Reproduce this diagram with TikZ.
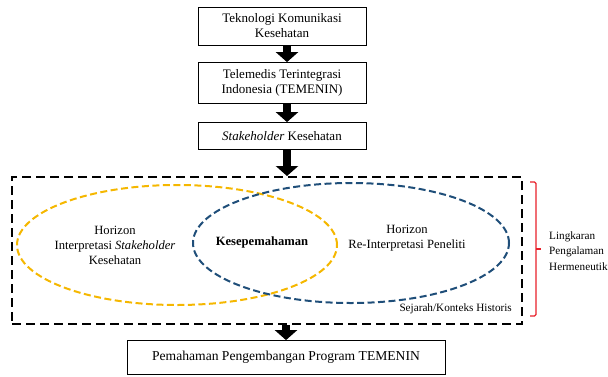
\documentclass[tikz,border=0pt]{standalone}
\usepackage{fontspec}
\setmainfont{Liberation Serif}
\usetikzlibrary{arrows.meta,positioning}
\definecolor{gold}{HTML}{F5B700}
\definecolor{navy}{HTML}{1F4E79}
\definecolor{bred}{HTML}{E8202A}
\begin{document}
\begin{tikzpicture}[x=1pt,y=-1pt,
  flowbox/.style={draw=black,line width=0.8pt,align=center,inner sep=2pt,font=\fontsize{13}{15}\selectfont},
  blockarrow/.style={line width=8pt,-{Triangle[width=22pt,length=10pt]},shorten >=0pt},
  ringtext/.style={align=center,font=\fontsize{12.6}{15}\selectfont},
  horizon/.style={line width=2pt,dash pattern=on 7pt off 3.5pt}]
\useasboundingbox (0,0) rectangle (608,376);
\node[flowbox,minimum width=168pt,minimum height=38pt] (b1) at (282,26) {Teknologi Komunikasi\\Kesehatan};
\node[flowbox,minimum width=168pt,minimum height=41pt] (b2) at (282,83) {Telemedis Terintegrasi\\Indonesia (TEMENIN)};
\node[flowbox,minimum width=168pt,minimum height=27pt] (b3) at (282,136) {\textit{Stakeholder} Kesehatan};
\node[draw=black,line width=2pt,dash pattern=on 9pt off 5pt,minimum width=510pt,minimum height=147pt,inner sep=0pt] (frame) at (267,250.5) {};
\node[flowbox,minimum width=318pt,minimum height=34pt,font=\fontsize{13.6}{15}\selectfont] (b4) at (286,357.5) {Pemahaman Pengembangan Program TEMENIN};
\draw[horizon,draw=gold] (177,245) ellipse [x radius=160pt,y radius=60pt];
\draw[horizon,draw=navy] (351,243) ellipse [x radius=158pt,y radius=60pt];
\node[ringtext] (hs) at (115,245) {Horizon\\Interpretasi \textit{Stakeholder}\\Kesehatan};
\node[ringtext,font=\bfseries\fontsize{12.6}{15}\selectfont] (ks) at (262,242) {Kesepemahaman};
\node[ringtext] (hp) at (407,238) {Horizon\\Re-Interpretasi Peneliti};
\node[ringtext,font=\fontsize{11.2}{13}\selectfont,anchor=east,inner sep=0pt] (sj) at (512,309) {Sejarah/Konteks Historis};
\node[align=left,anchor=west,inner sep=0pt,font=\fontsize{11.2}{15.5}\selectfont] (lp) at (549,251) {Lingkaran\\Pengalaman\\Hermeneutik};
\draw[bred,line width=1.3pt,rounded corners=1.5pt] (530,182) -- (536,182) -- (536,316) -- (530,316);
\draw[bred,line width=1.3pt] (536,249) -- (541,249);
\draw[blockarrow] ([xshift=5pt]b1.south) -- ([xshift=5pt]b2.north);
\draw[blockarrow] ([xshift=5pt]b2.south) -- ([xshift=5pt]b3.north);
\draw[blockarrow] ([xshift=5pt]b3.south) -- ([xshift=5pt]b3.south |- frame.north);
\draw[blockarrow] (b4.north |- frame.south) -- (b4.north);
\end{tikzpicture}
\end{document}
